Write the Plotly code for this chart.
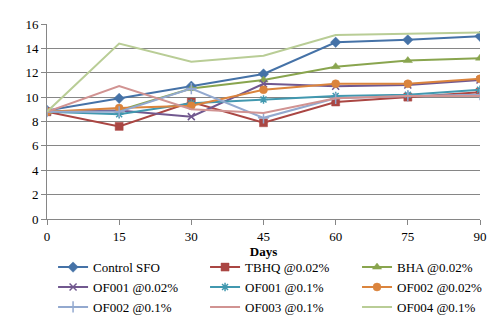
import plotly.graph_objects as go

days = [0, 15, 30, 45, 60, 75, 90]
series_names = ["Control SFO", "TBHQ @0.02%", "BHA @0.02%",
                "OF001 @0.02%", "OF001 @0.1%", "OF002 @0.02%",
                "OF002 @0.1%", "OF003 @0.1%", "OF004 @0.1%"]
control_sfo = [8.9, 9.9, 10.9, 11.9, 14.5, 14.7, 15.0]
tbhq = [8.8, 7.6, 9.6, 7.9, 9.6, 10.0, 10.4]
bha = [8.8, 8.9, 10.7, 11.4, 12.5, 13.0, 13.2]
of001_002 = [8.8, 8.9, 8.4, 11.1, 10.9, 11.0, 11.4]
of001_01 = [8.8, 8.6, 9.5, 9.8, 10.1, 10.2, 10.6]
of002_002 = [8.8, 9.1, 9.3, 10.6, 11.1, 11.1, 11.5]
of002_01 = [8.8, 8.8, 10.7, 8.3, 9.9, 10.1, 10.2]
of003_01 = [8.8, 10.9, 9.0, 8.7, 9.9, 10.1, 10.1]
of004_01 = [8.8, 14.4, 12.9, 13.4, 15.1, 15.2, 15.3]
y_ticks = [0, 2, 4, 6, 8, 10, 12, 14, 16]

values = [control_sfo, tbhq, bha, of001_002, of001_01, of002_002,
          of002_01, of003_01, of004_01]
colors = ["#4572A7", "#AA4643", "#89A54E", "#71588F", "#4198AF",
          "#DB843D", "#93A9CF", "#D19392", "#B9CD96"]
symbols = ["diamond", "square", "triangle-up", "x-thin", "asterisk",
           "circle", "cross-thin", None, None]
sizes = [8, 8, 8, 7, 7, 8, 8, 0, 0]
legend_ids = ["legend", "legend2", "legend3"]

fig = go.Figure()
for i, (name, vals, c, s, sz) in enumerate(zip(series_names, values, colors, symbols, sizes)):
    lg = legend_ids[i % 3]
    if s is None:
        fig.add_trace(go.Scatter(x=days, y=vals, name=name, mode="lines",
                                 line=dict(color=c, width=2), legend=lg))
    else:
        fig.add_trace(go.Scatter(
            x=days, y=vals, name=name, mode="lines+markers",
            line=dict(color=c, width=2), legend=lg,
            marker=dict(symbol=s, size=sz, color=c,
                        line=dict(color=c, width=1.5 if "thin" in s or s == "asterisk" else 0.5))))

font_family = "Liberation Serif, Times New Roman, serif"
leg_common = dict(orientation="v", xanchor="left", y=-0.17, yanchor="top",
                  font=dict(family=font_family, size=13),
                  tracegroupgap=0, itemwidth=30, bgcolor="rgba(0,0,0,0)")
fig.update_layout(
    width=500, height=318,
    margin=dict(l=39, r=28, t=16, b=107, autoexpand=False),
    paper_bgcolor="white", plot_bgcolor="white",
    font=dict(family=font_family, size=13, color="black"),
    showlegend=True,
    legend=dict(x=0.014, **leg_common),
    legend2=dict(x=0.365, **leg_common),
    legend3=dict(x=0.716, **leg_common),
    xaxis=dict(range=[0, 90], tickvals=days, ticktext=[str(d) for d in days],
               showgrid=False, zeroline=False,
               showline=True, linecolor="#868686", linewidth=1,
               ticks="outside", ticklen=5, tickcolor="#868686",
               title=dict(text="<b>Days</b>", standoff=0,
                          font=dict(family=font_family, size=13))),
    yaxis=dict(range=[0, 16], tickvals=y_ticks,
               showgrid=True, gridcolor="#868686", gridwidth=1,
               zeroline=False, showline=True, linecolor="#868686",
               ticks="outside", ticklen=5, tickcolor="#868686"),
)
fig.write_html("out.html")
